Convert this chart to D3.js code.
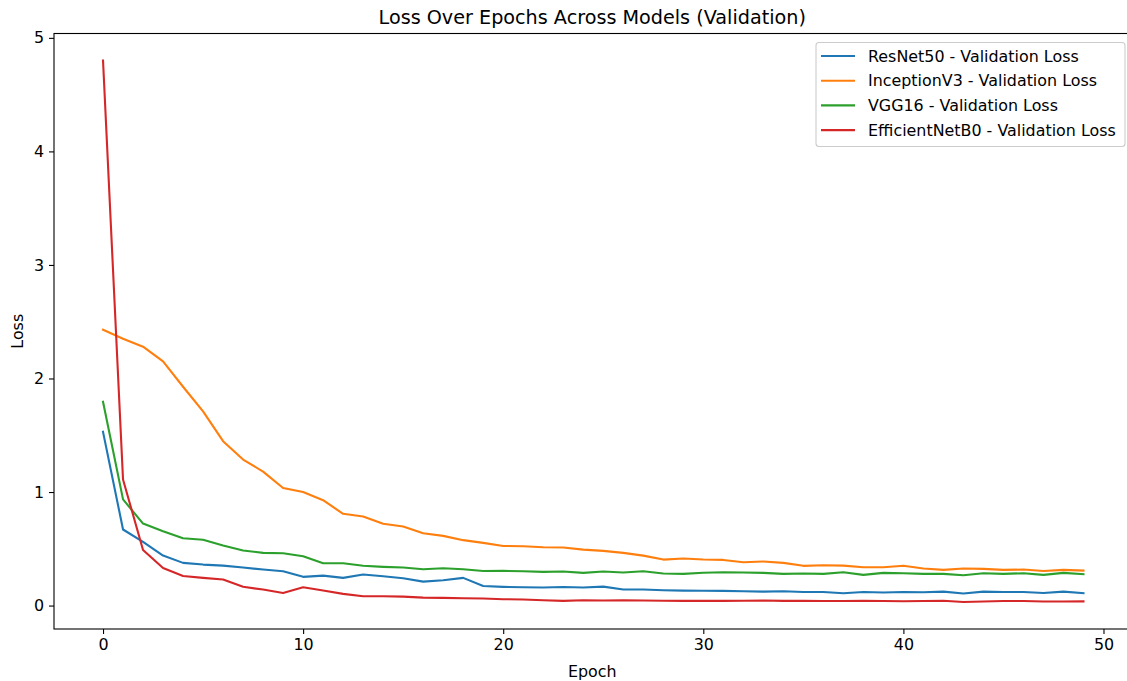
<!DOCTYPE html>
<html>
<head>
<meta charset="utf-8">
<script src="https://cdn.jsdelivr.net/npm/d3@7"></script>
<style>
  html, body { margin: 0; padding: 0; background: #fff; }
  svg { display: block; font-family: "DejaVu Sans", sans-serif; }
</style>
</head>
<body>
<svg id="chart" width="1127" height="681"></svg>
<script>
const epochs = d3.range(0, 50);

const resnet50 = [1.53, 0.67, 0.56, 0.44, 0.376, 0.361, 0.352, 0.335, 0.317, 0.302,
  0.253, 0.264, 0.244, 0.273, 0.258, 0.241, 0.211, 0.223, 0.244, 0.172,
  0.165, 0.161, 0.159, 0.164, 0.159, 0.167, 0.141, 0.141, 0.135, 0.132,
  0.131, 0.129, 0.126, 0.123, 0.126, 0.12, 0.12, 0.109, 0.12, 0.115,
  0.12, 0.117, 0.123, 0.106, 0.123, 0.12, 0.12, 0.111, 0.123, 0.109];

const inceptionV3 = [2.43, 2.35, 2.28, 2.15, 1.927, 1.71, 1.448, 1.286, 1.18, 1.035,
  1.0, 0.928, 0.808, 0.784, 0.72, 0.696, 0.637, 0.614, 0.576, 0.552,
  0.525, 0.523, 0.514, 0.511, 0.493, 0.482, 0.464, 0.44, 0.405, 0.414,
  0.406, 0.402, 0.382, 0.388, 0.376, 0.35, 0.355, 0.352, 0.338, 0.338,
  0.35, 0.326, 0.314, 0.326, 0.323, 0.314, 0.317, 0.305, 0.314, 0.308];

const vgg16 = [1.795, 0.935, 0.722, 0.655, 0.593, 0.579, 0.529, 0.485, 0.464, 0.461,
  0.434, 0.373, 0.373, 0.35, 0.341, 0.335, 0.32, 0.329, 0.32, 0.305,
  0.306, 0.302, 0.297, 0.3, 0.288, 0.3, 0.291, 0.302, 0.282, 0.279,
  0.289, 0.293, 0.291, 0.288, 0.279, 0.282, 0.279, 0.293, 0.27, 0.288,
  0.285, 0.279, 0.279, 0.267, 0.285, 0.279, 0.285, 0.27, 0.288, 0.276];

const efficientNetB0 = [4.80, 1.11, 0.49, 0.33, 0.26, 0.244, 0.229, 0.165, 0.141, 0.11,
  0.161, 0.132, 0.103, 0.082, 0.082, 0.079, 0.07, 0.068, 0.064, 0.062,
  0.056, 0.053, 0.047, 0.041, 0.047, 0.044, 0.047, 0.044, 0.042, 0.041,
  0.041, 0.041, 0.042, 0.044, 0.041, 0.041, 0.04, 0.04, 0.041, 0.04,
  0.038, 0.04, 0.042, 0.032, 0.036, 0.04, 0.04, 0.036, 0.036, 0.037];

const seriesNames = ["ResNet50 - Validation Loss", "InceptionV3 - Validation Loss",
  "VGG16 - Validation Loss", "EfficientNetB0 - Validation Loss"];
const seriesValues = [resnet50, inceptionV3, vgg16, efficientNetB0];
const seriesColors = ["#1f77b4", "#ff7f0e", "#2ca02c", "#d62728"];

const xTicks = [0, 10, 20, 30, 40, 50];
const yTicks = [0, 1, 2, 3, 4, 5];

(function () {
const svg = d3.select("#chart");
const mLeft = 54, mRight = 1132.5, mTop = 33.5, mBottom = 629;
const fs = 15.9, fsTitle = 19.2;

const allVals = seriesValues.flat();
const yMin = d3.min(allVals), yMax = d3.max(allVals);
const yPad = (yMax - yMin) * 0.05;
const xPad = 49 * 0.05;

const x = d3.scaleLinear().domain([-xPad, 49 + xPad]).range([mLeft, mRight]);
const y = d3.scaleLinear().domain([yMin - yPad, yMax + yPad]).range([mBottom, mTop]);

const g = svg.append("g");

const line = d3.line().x((d, i) => x(epochs[i])).y(d => y(d));
seriesValues.forEach((vals, k) => {
  g.append("path")
    .datum(vals)
    .attr("fill", "none")
    .attr("stroke", seriesColors[k])
    .attr("stroke-width", 2.1)
    .attr("stroke-linejoin", "round")
    .attr("stroke-linecap", "square")
    .attr("d", line);
});

const xAxis = d3.axisBottom(x).tickValues(xTicks).tickSize(5).tickPadding(5).tickFormat(d3.format("d"));
const yAxis = d3.axisLeft(y).tickValues(yTicks).tickSize(5).tickPadding(5).tickFormat(d3.format("d"));

const gx = svg.append("g").attr("transform", `translate(0,${mBottom})`).call(xAxis);
const gy = svg.append("g").attr("transform", `translate(${mLeft},0)`).call(yAxis);
[gx, gy].forEach(a => {
  a.select(".domain").remove();
  a.selectAll("line").attr("stroke", "#000").attr("stroke-width", 1.1);
  a.selectAll("text").attr("fill", "#000").style("font-size", fs + "px").style("font-family", "DejaVu Sans");
});

svg.append("rect")
  .attr("x", mLeft).attr("y", mTop)
  .attr("width", mRight - mLeft).attr("height", mBottom - mTop)
  .attr("fill", "none").attr("stroke", "#000").attr("stroke-width", 1.1);

svg.append("text")
  .attr("x", (mLeft + mRight) / 2 - 1).attr("y", 24)
  .attr("text-anchor", "middle")
  .style("font-size", fsTitle + "px")
  .text("Loss Over Epochs Across Models (Validation)");

svg.append("text")
  .attr("x", (mLeft + mRight) / 2 - 1).attr("y", 677)
  .attr("text-anchor", "middle")
  .style("font-size", fs + "px")
  .text("Epoch");

svg.append("text")
  .attr("transform", `translate(23,${(mTop + mBottom) / 2}) rotate(-90)`)
  .attr("text-anchor", "middle")
  .style("font-size", fs + "px")
  .text("Loss");

const lg = svg.append("g");
const lx = 816, ly = 42.5, lw = 309, lh = 104;
lg.append("rect")
  .attr("x", lx).attr("y", ly).attr("width", lw).attr("height", lh)
  .attr("rx", 3).attr("fill", "#fff").attr("fill-opacity", 0.8)
  .attr("stroke", "#ccc").attr("stroke-width", 1.1);
seriesNames.forEach((name, k) => {
  const yy = 56 + k * 24.7;
  lg.append("line")
    .attr("x1", 821).attr("x2", 855).attr("y1", yy).attr("y2", yy)
    .attr("stroke", seriesColors[k]).attr("stroke-width", 2.1);
  lg.append("text")
    .attr("x", 868).attr("y", yy + 5.5)
    .style("font-size", fs + "px")
    .text(name);
});
})();
</script>
</body>
</html>
